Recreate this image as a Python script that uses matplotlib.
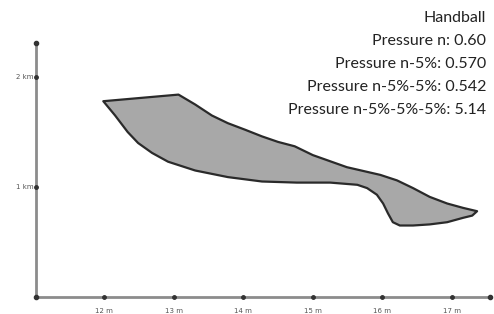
import matplotlib.pyplot as plt

# outline of the shaded region (x in m, y in km)
shape_x = [11.99, 13.07, 13.31, 13.55, 13.78, 14.03, 14.27, 14.50, 14.74, 15.00,
           15.49, 15.97, 16.21, 16.44, 16.68, 16.93, 17.16, 17.36, 17.29, 17.16,
           16.93, 16.68, 16.44, 16.25, 16.15, 16.08, 16.01, 15.92, 15.78, 15.64,
           15.25, 14.77, 14.27, 13.78, 13.31, 12.92, 12.69, 12.49, 12.34, 12.16]
shape_y = [1.78, 1.84, 1.75, 1.65, 1.58, 1.52, 1.46, 1.41, 1.37, 1.29,
           1.18, 1.11, 1.06, 0.99, 0.91, 0.85, 0.81, 0.78, 0.74, 0.72,
           0.68, 0.66, 0.65, 0.65, 0.68, 0.76, 0.85, 0.93, 0.99, 1.02,
           1.04, 1.04, 1.05, 1.09, 1.15, 1.23, 1.31, 1.40, 1.50, 1.65]

x_ticks = [12, 13, 14, 15, 16, 17]
x_labels = ["12 m", "13 m", "14 m", "15 m", "16 m", "17 m"]
y_ticks = [1, 2]
y_labels = ["1 km", "2 km"]

legend_lines = ["Handball", "Pressure n: 0.60", "Pressure n-5%: 0.570",
                "Pressure n-5%-5%: 0.542", "Pressure n-5%-5%-5%: 5.14"]

fig = plt.figure(figsize=(4.94, 3.14), dpi=100)
ax = fig.add_axes([0, 0, 1, 1])
ax.set_xlim(10.506, 17.603)
ax.set_ylim(-0.1545, 2.7)
ax.axis("off")

x0 = 11.02
axis_col = "#8c8c8c"
ax.plot([x0, x0], [0, 2.31], color=axis_col, lw=2, zorder=1)
ax.plot([x0, 17.55], [0, 0], color=axis_col, lw=2, zorder=1)
ax.plot([x0, x0, 17.55], [2.31, 0, 0], "o", color="#333333", ms=3, zorder=2)
ax.plot(x_ticks, [0] * len(x_ticks), "o", color="#333333", ms=2.5, zorder=2)
ax.plot([x0] * len(y_ticks), y_ticks, "o", color="#333333", ms=2.5, zorder=2)

for xt, lab in zip(x_ticks, x_labels):
    ax.text(xt, -0.125, lab, ha="center", va="center", fontsize=5, color="#555555")
for yt, lab in zip(y_ticks, y_labels):
    ax.text(x0 - 0.03, yt, lab, ha="right", va="center", fontsize=5, color="#555555")

ax.fill(shape_x, shape_y, facecolor="#a8a8a8", edgecolor="#2a2a2a", lw=1.6,
        joinstyle="round", zorder=3)

for i, line in enumerate(legend_lines):
    fig.text(486 / 494, 1 - (18 + 23 * i) / 314, line, ha="right", va="center",
             fontsize=11.5, family="Lato", color="#222222")

fig.savefig("out.png", dpi=100)
